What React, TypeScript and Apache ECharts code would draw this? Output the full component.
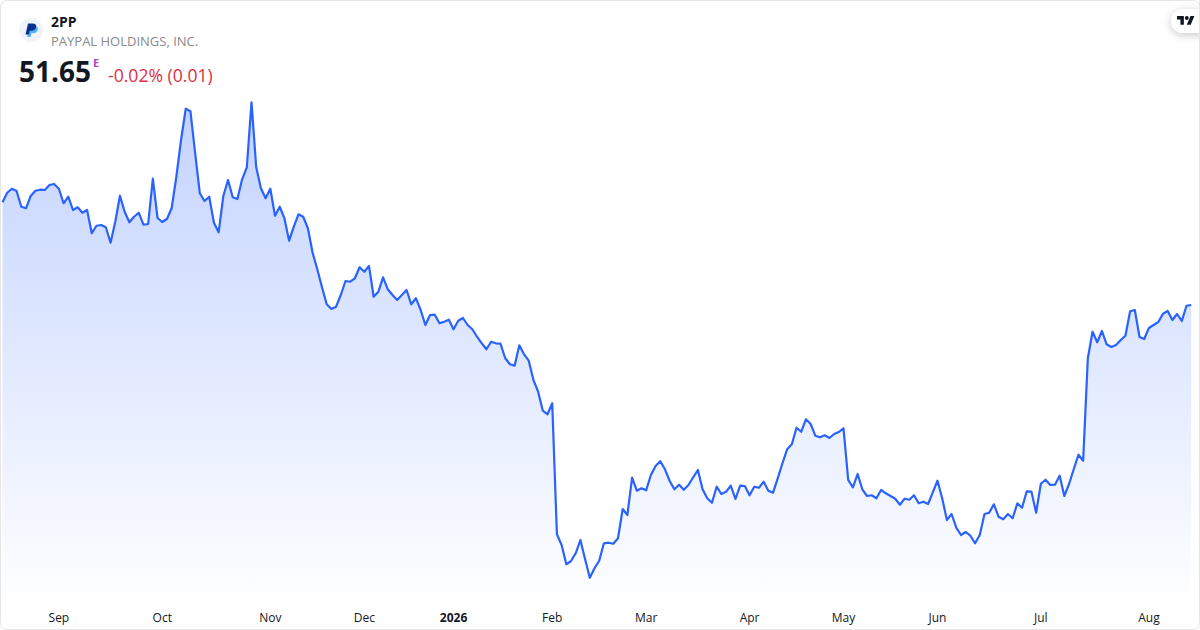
import React, { useEffect, useRef } from "react";
import * as echarts from "echarts";

const values = [
  58.84,59.51,59.79,59.63,58.53,58.42,59.28,59.65,59.72,59.70,60.05,60.12,59.79,58.77,59.23,58.30,58.49,58.11,58.30,56.67,
  57.20,57.25,57.09,56.01,57.48,59.30,58.18,57.44,57.83,58.11,57.27,57.32,60.49,57.74,57.46,57.67,58.42,60.63,63.20,65.39,
  65.21,62.29,59.47,58.93,59.23,57.41,56.74,59.28,60.40,59.19,59.07,60.45,61.29,65.84,61.29,59.82,59.12,59.79,57.90,58.53,
  57.72,56.15,57.13,58.00,57.83,57.02,55.31,54.15,52.89,51.70,51.37,51.53,52.35,53.33,53.28,53.52,54.29,53.98,54.38,52.23,
  52.58,53.59,52.75,52.35,52.00,52.35,52.70,51.70,52.12,51.30,50.25,50.95,50.97,50.37,50.48,50.62,49.95,50.55,50.74,50.25,
  49.95,49.43,48.97,48.55,49.08,48.97,48.94,47.92,47.50,47.40,48.83,48.20,47.75,46.40,45.58,44.25,44.00,44.77,35.60,34.85,
  33.50,33.73,34.27,35.20,33.85,32.56,33.22,33.75,34.97,35.01,34.94,35.32,37.37,36.95,39.56,38.65,38.82,38.68,39.75,40.38,
  40.71,40.15,39.33,38.75,39.07,38.72,39.05,39.59,40.10,38.75,38.12,37.81,38.93,38.42,38.58,39.00,38.07,39.00,38.98,38.33,
  38.93,38.86,39.28,38.65,38.51,39.52,40.57,41.55,41.90,43.06,42.78,43.65,43.32,42.50,42.39,42.53,42.34,42.62,42.76,43.02,
  39.40,38.89,39.82,38.75,38.28,38.33,38.12,38.70,38.47,38.28,38.09,37.67,38.09,38.02,38.33,37.77,37.88,37.72,38.54,39.35,
  38.12,36.60,37.02,36.06,35.55,35.76,35.50,34.97,35.55,37.02,37.11,37.70,36.83,36.65,37.02,36.72,37.77,37.46,38.61,38.58,
  37.11,39.14,39.42,39.05,39.07,39.70,38.28,39.12,40.15,41.17,40.75,47.92,49.78,49.04,49.83,48.90,48.71,48.85,49.20,49.50,
  51.21,51.30,49.41,49.27,50.04,50.25,50.46,51.04,51.23,50.60,51.02,50.53,51.60,51.65,
];
const tickLabels = ["Sep","Oct","Nov","Dec","2026","Feb","Mar","Apr","May","Jun","Jul","Aug"];
const tickIndexes = [12,34,57,77,96,117,137,159,179,199,221,244];
const categories = values.map((_, i) => {
  const k = tickIndexes.indexOf(i);
  return k >= 0 ? tickLabels[k] : "";
});

const symbol = "2PP";
const company = "PAYPAL HOLDINGS, INC.";
const lastPrice = "51.65";
const session = "E";
const change = "-0.02% (0.01)";
const FONT = '"Open Sans", "Noto Sans", sans-serif';

echarts.graphic.registerShape("tvMark", echarts.graphic.extendPath("M14 22H7V11H0V4h14v18zM28 22h-8l7.5-18h8L28 22zM24 8a4 4 0 1 1-8 0a4 4 0 0 1 8 0z", {}) as any);
echarts.graphic.registerShape("ppDark", echarts.graphic.extendPath("M3 0h5.5c3 0 4.6 1.6 4 4.2C12 7 10 8.6 7 8.6H5L4 13H0L3 0z", {}) as any);
echarts.graphic.registerShape("ppLight", echarts.graphic.extendPath("M5 3h5.5c3 0 4.6 1.6 4 4.2C14 10 12 11.6 9 11.6H7L6 16H2L5 3z", {}) as any);

export default function App() {
  const ref = useRef<HTMLDivElement>(null);
  useEffect(() => {
    const chart = echarts.init(ref.current!, undefined, { renderer: "svg" });
    chart.setOption({
      animation: false,
      backgroundColor: "#ffffff",
      grid: { left: 2.5, width: 1188.7, top: 100, height: 500 },
      xAxis: {
        type: "category",
        data: categories,
        boundaryGap: false,
        axisLine: { show: false },
        axisTick: { show: false },
        splitLine: { show: false },
        axisLabel: {
          interval: (_: number, v: string) => v !== "",
          showMinLabel: true,
          showMaxLabel: true,
          hideOverlap: false,
          margin: 11,
          fontSize: 12,
          fontFamily: FONT,
          color: "#131722",
          formatter: (v: string) => (v === "2026" ? "{b|2026}" : v),
          rich: { b: { fontWeight: "bold", fontSize: 12, fontFamily: FONT, color: "#131722" } },
        },
      },
      yAxis: { type: "value", min: 31, max: 66, show: false, splitLine: { show: false } },
      series: [
        {
          type: "line",
          data: values,
          showSymbol: false,
          smooth: false,
          lineStyle: { color: "#2962ff", width: 2.2, join: "round" },
          areaStyle: {
            origin: "start",
            opacity: 1,
            color: new echarts.graphic.LinearGradient(0, 0, 0, 1, [
              { offset: 0, color: "rgba(41,98,255,0.28)" },
              { offset: 1, color: "rgba(41,98,255,0.005)" },
            ]),
          },
        },
      ],
      graphic: [
        { type: "rect", silent: true, shape: { x: 0.5, y: 0.5, width: 1199, height: 629, r: 6 }, style: { fill: "none", stroke: "#e6e6e6", lineWidth: 1 } },
        { type: "circle", shape: { cx: 31, cy: 30, r: 12 }, style: { fill: "#f0f3fa" } },
        { type: "ppLight", x: 25.5, y: 23.5, scaleX: 0.85, scaleY: 0.85, style: { fill: "#4fb3f5" } },
        { type: "ppDark", x: 25.5, y: 23.5, scaleX: 0.85, scaleY: 0.85, style: { fill: "#0a2f8f" } },
        { type: "text", x: 51, y: 21, style: { text: symbol, font: `bold 14px ${FONT}`, fill: "#131722", verticalAlign: "middle" } },
        { type: "text", x: 51, y: 41, style: { text: company, font: `13px ${FONT}`, fill: "#8a8a8a", verticalAlign: "middle" } },
        { type: "text", x: 19, y: 71, style: { text: lastPrice, font: `bold 28px ${FONT}`, fill: "#131722", verticalAlign: "middle" } },
        { type: "text", x: 93, y: 62, style: { text: session, font: `bold 11px ${FONT}`, fill: "#ab47bc", verticalAlign: "middle" } },
        { type: "text", x: 108, y: 74.5, style: { text: change, font: `17.6px ${FONT}`, fill: "#dc2f43", verticalAlign: "middle" } },
        { type: "rect", shape: { x: 1171, y: 9, width: 40, height: 24, r: 12 }, style: { fill: "#ffffff", shadowBlur: 8, shadowColor: "rgba(0,0,0,0.22)", shadowOffsetY: 2 } },
        { type: "rect", shape: { x: 1199, y: 0, width: 1, height: 40 }, style: { fill: "#e6e6e6" } },
        { type: "tvMark", x: 1177, y: 14, scaleX: 0.49, scaleY: 0.49, style: { fill: "#131722" } },
      ],
    });
    return () => chart.dispose();
  }, []);
  return <div ref={ref} style={{ position: "fixed", left: 0, top: 0, width: 1200, height: 630 }} />;
}
